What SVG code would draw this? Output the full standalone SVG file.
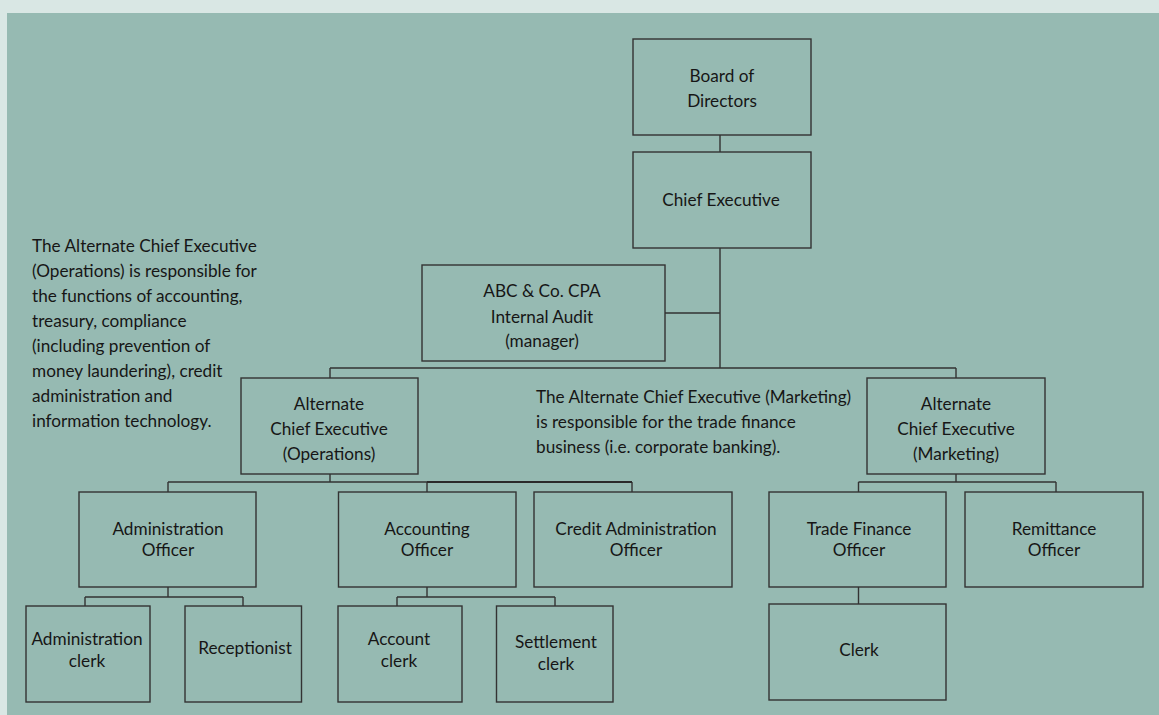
<svg xmlns="http://www.w3.org/2000/svg" width="1159" height="715" viewBox="0 0 1159 715">
  <style>
    .box { fill: none; stroke: #333; stroke-width: 1.4; }
    .ln { fill: none; stroke: #333; stroke-width: 1.4; }
    .ln-bold { fill: none; stroke: #2a2a2a; stroke-width: 2.2; }
    text { font-family: Lato, "Open Sans", "Liberation Sans", sans-serif; font-size: 17.2px; fill: #161616; }
    .c { text-anchor: middle; }
  </style>

  <!-- page and panel -->
  <rect x="0" y="0" width="1159" height="715" fill="#d9e7e4"/>
  <rect x="7" y="13" width="1152" height="702" fill="#96bab2"/>

  <!-- connectors -->
  <g id="connectors">
    <path class="ln" d="M720,135 V152 M720,248 V368 M665,313 H720 M330,368 H956 M330,368 V378 M956,368 V378"/>
    <path class="ln" d="M330,474 V482 M168,482 H427 M168,482 V492 M427,482 V492 M632,482 V492"/>
    <path class="ln-bold" d="M427,482 H632"/>
    <path class="ln" d="M956,474 V482 M858.5,482 H1056 M858.5,482 V492 M1056,482 V492 M858.5,587 V604"/>
    <path class="ln" d="M168,587 V597 M85,597 H243 M85,597 V606 M243,597 V606"/>
    <path class="ln" d="M427,587 V597 M397,597 H555 M397,597 V606 M555,597 V606"/>
  </g>

  <g id="board">
    <rect class="box" x="633" y="39" width="178" height="96"/>
    <text class="c" x="722" y="81.5">Board of</text>
    <text class="c" x="722" y="106.5">Directors</text>
  </g>

  <g id="chief-executive">
    <rect class="box" x="633" y="152" width="178" height="96"/>
    <text class="c" x="721" y="206">Chief Executive</text>
  </g>

  <g id="internal-audit">
    <rect class="box" x="422" y="265" width="243" height="96"/>
    <text class="c" x="542" y="297">ABC &amp; Co. CPA</text>
    <text class="c" x="542" y="322.5">Internal Audit</text>
    <text class="c" x="542" y="347">(manager)</text>
  </g>

  <g id="ace-operations">
    <rect class="box" x="241" y="378" width="177" height="96"/>
    <text class="c" x="329" y="410">Alternate</text>
    <text class="c" x="329" y="435">Chief Executive</text>
    <text class="c" x="329" y="459.5">(Operations)</text>
  </g>

  <g id="ace-marketing">
    <rect class="box" x="867" y="378" width="178" height="96"/>
    <text class="c" x="956" y="410">Alternate</text>
    <text class="c" x="956" y="435">Chief Executive</text>
    <text class="c" x="956" y="459.5">(Marketing)</text>
  </g>

  <g id="note-operations">
    <text x="32" y="251.7">The Alternate Chief Executive</text>
    <text x="32" y="276.7">(Operations) is responsible for</text>
    <text x="32" y="301.7">the functions of accounting,</text>
    <text x="32" y="326.7">treasury, compliance</text>
    <text x="32" y="351.7">(including prevention of</text>
    <text x="32" y="376.7">money laundering), credit</text>
    <text x="32" y="401.7">administration and</text>
    <text x="32" y="426.7">information technology.</text>
  </g>

  <g id="note-marketing">
    <text x="536" y="402.7">The Alternate Chief Executive (Marketing)</text>
    <text x="536" y="427.7">is responsible for the trade finance</text>
    <text x="536" y="452.7">business (i.e. corporate banking).</text>
  </g>

  <g id="administration-officer">
    <rect class="box" x="79" y="492" width="177" height="95"/>
    <text class="c" x="168" y="535">Administration</text>
    <text class="c" x="168" y="556">Officer</text>
  </g>

  <g id="accounting-officer">
    <rect class="box" x="338.5" y="492" width="177.5" height="95"/>
    <text class="c" x="427" y="535">Accounting</text>
    <text class="c" x="427" y="556">Officer</text>
  </g>

  <g id="credit-administration-officer">
    <rect class="box" x="534" y="492" width="198" height="95"/>
    <text class="c" x="636" y="535">Credit Administration</text>
    <text class="c" x="636" y="556">Officer</text>
  </g>

  <g id="trade-finance-officer">
    <rect class="box" x="769" y="492" width="177" height="95"/>
    <text class="c" x="859" y="535">Trade Finance</text>
    <text class="c" x="859" y="556">Officer</text>
  </g>

  <g id="remittance-officer">
    <rect class="box" x="965" y="492" width="178" height="95"/>
    <text class="c" x="1054" y="535">Remittance</text>
    <text class="c" x="1054" y="556">Officer</text>
  </g>

  <g id="administration-clerk">
    <rect class="box" x="26" y="606" width="124" height="96"/>
    <text class="c" x="87" y="645">Administration</text>
    <text class="c" x="87" y="667">clerk</text>
  </g>

  <g id="receptionist">
    <rect class="box" x="185" y="606" width="116.5" height="96"/>
    <text class="c" x="245" y="654">Receptionist</text>
  </g>

  <g id="account-clerk">
    <rect class="box" x="338" y="606" width="124" height="96"/>
    <text class="c" x="399" y="645">Account</text>
    <text class="c" x="399" y="667">clerk</text>
  </g>

  <g id="settlement-clerk">
    <rect class="box" x="496.5" y="606" width="116.5" height="96"/>
    <text class="c" x="556" y="648">Settlement</text>
    <text class="c" x="556" y="670">clerk</text>
  </g>

  <g id="clerk">
    <rect class="box" x="769" y="604" width="177" height="96"/>
    <text class="c" x="859" y="656">Clerk</text>
  </g>
</svg>
